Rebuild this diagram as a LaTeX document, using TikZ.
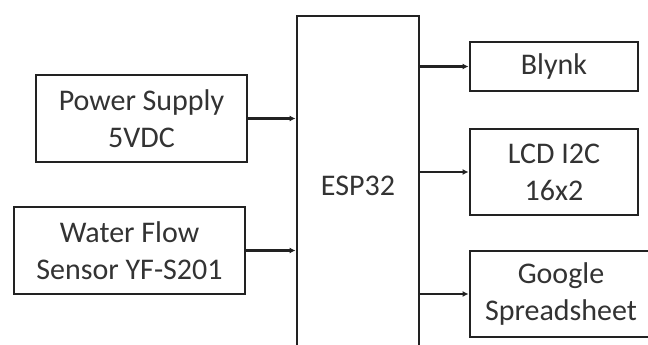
\documentclass[tikz,border=0pt]{standalone}
\usepackage{fontspec}
\setmainfont{Carlito}
\usetikzlibrary{arrows.meta}
\definecolor{linec}{HTML}{222222}
\definecolor{textc}{HTML}{333333}
\begin{document}
\begin{tikzpicture}[x=1pt,y=-1pt,
  blockbox/.style={draw=linec,line width=2.9pt,rectangle,inner sep=0pt,align=center,
    text=textc,font=\fontsize{30}{37}\selectfont},
  conn/.style={draw=linec,line width=2.9pt,-{Latex[length=6pt,width=6pt]}}]
\useasboundingbox[fill=white] (0,0) rectangle (648,345);
\node[blockbox,minimum width=211pt,minimum height=87pt] (pw) at (141.5,118.5) {Power Supply\\5VDC};
\node[blockbox,minimum width=231pt,minimum height=87pt] (wf) at (129.5,250.5) {Water Flow\\Sensor YF-S201};
\node[blockbox,minimum width=122pt,minimum height=339pt] (esp) at (358,185.5) {ESP32};
\node[blockbox,minimum width=168pt,minimum height=49pt] (bl) at (554,66.5) {Blynk};
\node[blockbox,minimum width=168pt,minimum height=86pt] (lcd) at (554,172) {LCD I2C\\16x2};
\node[blockbox,minimum width=182pt,minimum height=86pt] (gs) at (561,294) {Google\\Spreadsheet};
\draw[conn] (pw.east) -- (pw.east -| esp.west);
\draw[conn] (wf.east) -- (wf.east -| esp.west);
\draw[conn] (esp.east |- bl.west) -- (bl.west);
\draw[conn] (esp.east |- lcd.west) -- (lcd.west);
\draw[conn] (esp.east |- gs.west) -- (gs.west);
\end{tikzpicture}
\end{document}
